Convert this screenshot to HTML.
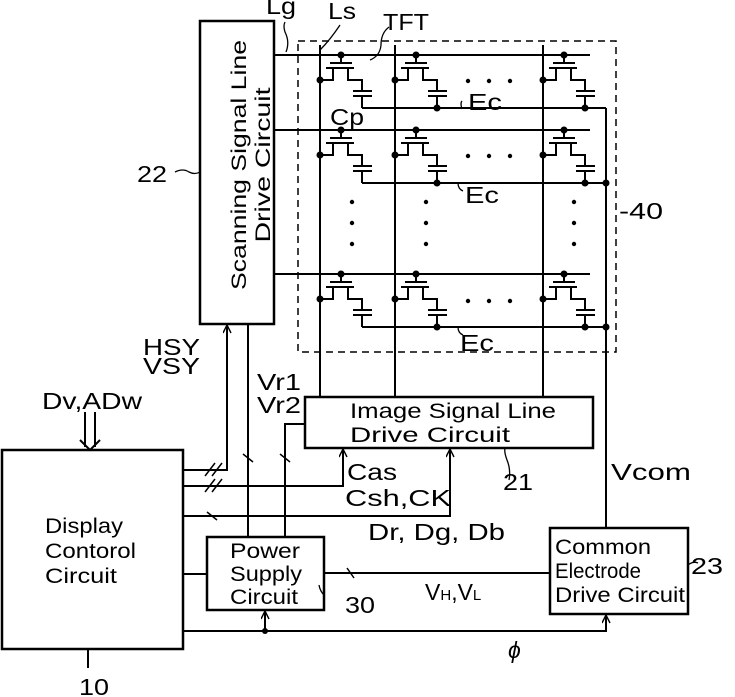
<!DOCTYPE html>
<html><head><meta charset="utf-8"><style>
html,body{margin:0;padding:0;background:#fff}
svg{display:block}
text{font-family:"Liberation Sans",sans-serif;fill:#000}
</style></head><body>
<svg width="735" height="697" viewBox="0 0 735 697" xmlns="http://www.w3.org/2000/svg">
<defs>
<marker id="ar" markerWidth="10" markerHeight="10" refX="9" refY="4" orient="auto" markerUnits="userSpaceOnUse">
<path d="M1,0 L9,4 L1,8" fill="none" stroke="#000" stroke-width="1.4"/></marker>
<g id="tft" fill="none" stroke="#000" stroke-width="2">
<line x1="21" y1="0" x2="21" y2="8"/>
<line x1="10" y1="8" x2="32" y2="8"/>
<line x1="6" y1="13" x2="34" y2="13"/>
<polyline points="0,25 13,25 13,13"/>
<polyline points="28,13 28,25 42,25 42,36"/>
<line x1="33" y1="36" x2="52" y2="36"/>
<line x1="33" y1="41" x2="52" y2="41"/>
<line x1="42" y1="41" x2="42" y2="53"/>
<circle cx="21" cy="0" r="3.5" fill="#000" stroke="none"/>
<circle cx="0" cy="25" r="3.5" fill="#000" stroke="none"/>
</g>
</defs>
<g stroke="#000" fill="none" stroke-width="2">
<rect x="200" y="21" width="74" height="303" stroke-width="2.5"/>
<rect x="2" y="450" width="181" height="199" stroke-width="2.5"/>
<rect x="207" y="537" width="117" height="73" stroke-width="2.5"/>
<rect x="305" y="397" width="288" height="51" stroke-width="2.5"/>
<rect x="550" y="528" width="138" height="86" stroke-width="2.5"/>
<rect x="298" y="41" width="318" height="311" stroke-dasharray="7,5" stroke-width="1.5"/>
<line x1="274" y1="55" x2="590" y2="55"/>
<line x1="274" y1="130" x2="590" y2="130"/>
<line x1="274" y1="274" x2="590" y2="274"/>
<line x1="320" y1="45" x2="320" y2="397"/>
<line x1="395" y1="45" x2="395" y2="397"/>
<line x1="543" y1="45" x2="543" y2="397"/>
<line x1="362" y1="108" x2="606" y2="108"/>
<line x1="362" y1="183" x2="606" y2="183"/>
<line x1="362" y1="327" x2="606" y2="327"/>
<line x1="606" y1="108" x2="606" y2="528"/>
<polyline points="183,470 227,470 227,325" marker-end="url(#ar)"/>
<polyline points="183,486 343,486 343,449" marker-end="url(#ar)"/>
<polyline points="183,516 450,516 450,449" marker-end="url(#ar)"/>
<line x1="248" y1="324" x2="248" y2="537"/>
<polyline points="285,537 285,424 305,424"/>
<line x1="183" y1="574" x2="207" y2="574"/>
<line x1="324" y1="573" x2="550" y2="573"/>
<polyline points="183,631 606,631 606,615" marker-end="url(#ar)"/>
<line x1="265" y1="631" x2="265" y2="611" marker-end="url(#ar)"/>
<line x1="88" y1="649" x2="88" y2="668"/>
<line x1="85" y1="412" x2="85" y2="447"/>
<line x1="95" y1="412" x2="95" y2="447"/>
<polyline points="80,440 90,450 100,440"/>
<g stroke-width="1.5">
<line x1="205" y1="476" x2="215" y2="463"/><line x1="212" y1="476" x2="222" y2="463"/>
<line x1="205" y1="492" x2="215" y2="479"/><line x1="212" y1="492" x2="222" y2="479"/>
<line x1="207" y1="512" x2="217" y2="520"/>
<line x1="243" y1="454" x2="253" y2="462"/>
<line x1="280" y1="454" x2="290" y2="462"/>
<line x1="347" y1="568" x2="354" y2="578"/>
</g>
<path d="M175,172 q8,-4 14,0 q6,3 11,0" stroke-width="1.3"/>
<path d="M324,595 q-4,-4 -5,-10" stroke-width="1.3"/>
<path d="M509,480 q2,-10 -2,-20 q-3,-8 -2,-12" stroke-width="1.3"/>
<path d="M688,565 q5,-4 10,-2" stroke-width="1.3"/>
<path d="M286,52 q4,-10 -1,-20 q-2,-6 0,-10" stroke-width="1.3"/>
<path d="M320,50 q10,-10 20,-25" stroke-width="1.3"/>
<path d="M370,60 q10,-4 11,-15 q0,-12 8,-18" stroke-width="1.3"/>
<path d="M462,109 q-2,-6 0,-8" stroke-width="1.3"/>
<path d="M458,183 q0,6 5,8" stroke-width="1.3"/>
<path d="M458,327 q0,6 5,8" stroke-width="1.3"/>
</g>
<use href="#tft" x="320" y="55"/><use href="#tft" x="395" y="55"/><use href="#tft" x="543" y="55"/>
<use href="#tft" x="320" y="130"/><use href="#tft" x="395" y="130"/><use href="#tft" x="543" y="130"/>
<use href="#tft" x="320" y="274"/><use href="#tft" x="395" y="274"/><use href="#tft" x="543" y="274"/>
<g fill="#000">
<circle cx="437" cy="108" r="3.5"/><circle cx="585" cy="108" r="3.5"/>
<circle cx="437" cy="183" r="3.5"/><circle cx="585" cy="183" r="3.5"/><circle cx="606" cy="183" r="3.5"/>
<circle cx="437" cy="327" r="3.5"/><circle cx="585" cy="327" r="3.5"/><circle cx="606" cy="327" r="3.5"/>
<circle cx="265" cy="631" r="3"/>
<circle cx="468" cy="81" r="2.2"/><circle cx="489" cy="81" r="2.2"/><circle cx="510" cy="81" r="2.2"/>
<circle cx="468" cy="156" r="2.2"/><circle cx="489" cy="156" r="2.2"/><circle cx="510" cy="156" r="2.2"/>
<circle cx="468" cy="301" r="2.2"/><circle cx="489" cy="301" r="2.2"/><circle cx="510" cy="301" r="2.2"/>
<circle cx="352" cy="202" r="2.2"/><circle cx="352" cy="223" r="2.2"/><circle cx="352" cy="244" r="2.2"/>
<circle cx="426" cy="202" r="2.2"/><circle cx="426" cy="223" r="2.2"/><circle cx="426" cy="244" r="2.2"/>
<circle cx="574" cy="202" r="2.2"/><circle cx="574" cy="223" r="2.2"/><circle cx="574" cy="244" r="2.2"/>
</g>
<g font-size="23">
<text x="266" y="14" textLength="30" lengthAdjust="spacingAndGlyphs">Lg</text>
<text x="328" y="19" textLength="28" lengthAdjust="spacingAndGlyphs">Ls</text>
<text x="383" y="30" textLength="46" lengthAdjust="spacingAndGlyphs">TFT</text>
<text x="330" y="125" textLength="34" lengthAdjust="spacingAndGlyphs">Cp</text>
<text x="468" y="110" textLength="34" lengthAdjust="spacingAndGlyphs">Ec</text>
<text x="465" y="203" textLength="34" lengthAdjust="spacingAndGlyphs">Ec</text>
<text x="460" y="351" textLength="34" lengthAdjust="spacingAndGlyphs">Ec</text>
<text x="619" y="219" textLength="44" lengthAdjust="spacingAndGlyphs">-40</text>
<text x="137" y="182" textLength="30" lengthAdjust="spacingAndGlyphs">22</text>
<text x="143" y="355" textLength="57" lengthAdjust="spacingAndGlyphs">HSY</text>
<text x="143" y="374" textLength="57" lengthAdjust="spacingAndGlyphs">VSY</text>
<text x="257" y="390" textLength="44" lengthAdjust="spacingAndGlyphs">Vr1</text>
<text x="257" y="413" textLength="44" lengthAdjust="spacingAndGlyphs">Vr2</text>
<text x="42" y="409" textLength="100" lengthAdjust="spacingAndGlyphs">Dv,ADw</text>
<text x="347" y="480" textLength="50" lengthAdjust="spacingAndGlyphs">Cas</text>
<text x="345" y="506" textLength="106" lengthAdjust="spacingAndGlyphs">Csh,CK</text>
<text x="368" y="540" textLength="137" lengthAdjust="spacingAndGlyphs">Dr, Dg, Db</text>
<text x="503" y="490" textLength="30" lengthAdjust="spacingAndGlyphs">21</text>
<text x="611" y="480" textLength="80" lengthAdjust="spacingAndGlyphs">Vcom</text>
<text x="691" y="574" textLength="32" lengthAdjust="spacingAndGlyphs">23</text>
<text x="345" y="613" textLength="30" lengthAdjust="spacingAndGlyphs">30</text>
<text x="425" y="600">V<tspan font-size="15">H</tspan>,V<tspan font-size="15">L</tspan></text>
<text x="508" y="658" font-style="italic">ϕ</text>
<text x="79" y="695" textLength="30" lengthAdjust="spacingAndGlyphs">10</text>
</g>
<g font-size="21">
<text transform="translate(246,165) rotate(-90)" text-anchor="middle" textLength="250" lengthAdjust="spacingAndGlyphs">Scanning Signal Line</text>
<text transform="translate(270,165) rotate(-90)" text-anchor="middle" textLength="155" lengthAdjust="spacingAndGlyphs">Drive Circuit</text>
<text x="350" y="418" textLength="206" lengthAdjust="spacingAndGlyphs">Image Signal Line</text>
<text x="350" y="442" textLength="160" lengthAdjust="spacingAndGlyphs">Drive Circuit</text>
<text x="45" y="533" textLength="78" lengthAdjust="spacingAndGlyphs">Display</text>
<text x="45" y="558" textLength="91" lengthAdjust="spacingAndGlyphs">Contorol</text>
<text x="45" y="583" textLength="72" lengthAdjust="spacingAndGlyphs">Circuit</text>
<text x="230" y="558" textLength="70" lengthAdjust="spacingAndGlyphs">Power</text>
<text x="230" y="581" textLength="72" lengthAdjust="spacingAndGlyphs">Supply</text>
<text x="230" y="604" textLength="68" lengthAdjust="spacingAndGlyphs">Circuit</text>
<text x="555" y="554" textLength="96" lengthAdjust="spacingAndGlyphs">Common</text>
<text x="555" y="578" textLength="86" lengthAdjust="spacingAndGlyphs">Electrode</text>
<text x="555" y="602" textLength="130" lengthAdjust="spacingAndGlyphs">Drive Circuit</text>
</g>
</svg>
</body></html>
